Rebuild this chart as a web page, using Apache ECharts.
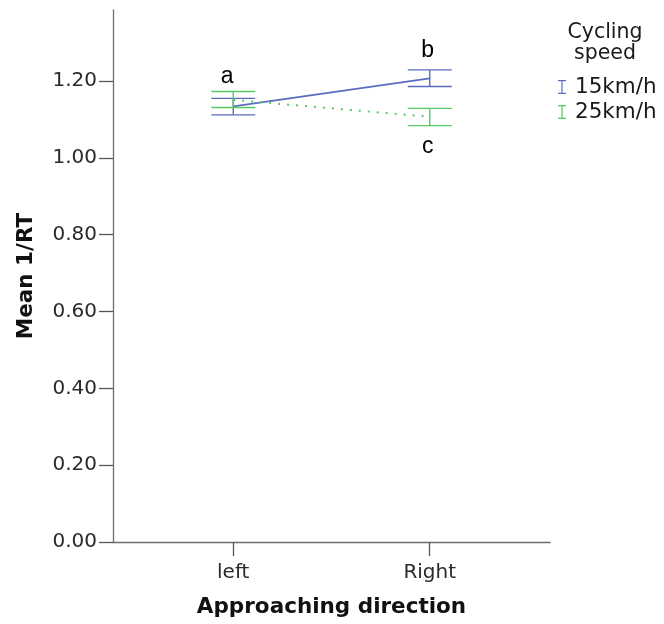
<!DOCTYPE html>
<html>
<head>
<meta charset="utf-8">
<script src="https://cdn.jsdelivr.net/npm/echarts@6/dist/echarts.min.js"></script>
<style>html,body{margin:0;padding:0;background:#fff}#c{width:664px;height:624px}</style>
</head>
<body>
<div id="c"></div>
<script>
// ---- data ----
const categories = ['left', 'Right'];
const seriesNames = ['15km/h', '25km/h'];
const mean15 = [1.134, 1.207];
const lo15 = [1.112, 1.186];
const hi15 = [1.155, 1.229];
const mean25 = [1.151, 1.107];
const lo25 = [1.131, 1.084];
const hi25 = [1.173, 1.129];
const yTicks = [0, 0.2, 0.4, 0.6, 0.8, 1.0, 1.2];
const letters = ['a', 'b', 'c'];

const blue = '#5a6cc0';
const green = '#57c965';
const font = 'DejaVu Sans';

const chart = echarts.init(document.getElementById('c'), null, {renderer: 'canvas'});

function errItem(params, api) {
  const x = api.value(0), lo = api.value(1), hi = api.value(2);
  const pLo = api.coord([x, lo]), pHi = api.coord([x, hi]);
  const hw = 22;
  const style = {stroke: api.visual('color'), lineWidth: 1.4, fill: null};
  return {type: 'group', children: [
    {type: 'line', shape: {x1: pLo[0], y1: pLo[1], x2: pHi[0], y2: pHi[1]}, style: style},
    {type: 'line', shape: {x1: pLo[0] - hw, y1: pLo[1], x2: pLo[0] + hw, y2: pLo[1]}, style: style},
    {type: 'line', shape: {x1: pHi[0] - hw, y1: pHi[1], x2: pHi[0] + hw, y2: pHi[1]}, style: style}
  ]};
}

const ibeam = 'path://M0,0 L8,0 L8,1.2 L4.6,1.2 L4.6,12.8 L8,12.8 L8,14 L0,14 L0,12.8 L3.4,12.8 L3.4,1.2 L0,1.2 Z';

const option = {
  animation: false,
  backgroundColor: '#fff',
  grid: {left: 113, right: 114, top: 10, bottom: 82, containLabel: false},
  title: {
    text: 'Cycling\nspeed',
    left: 600, top: 17, textAlign: 'center',
    textStyle: {fontFamily: font, fontSize: 20.5, fontWeight: 'normal', color: '#1a1a1a', lineHeight: 21}
  },
  legend: {
    orient: 'vertical', left: 553, top: 71, itemGap: 3,
    itemWidth: 8, itemHeight: 14,
    textStyle: {fontFamily: font, fontSize: 21.5, color: '#1a1a1a', padding: [0, 0, 0, 4]},
    data: [
      {name: seriesNames[0], icon: ibeam, itemStyle: {color: blue}},
      {name: seriesNames[1], icon: ibeam, itemStyle: {color: green}}
    ]
  },
  xAxis: {
    type: 'value', min: -0.612, max: 1.612,
    name: 'Approaching direction', nameLocation: 'middle', nameGap: 54,
    nameTextStyle: {fontFamily: font, fontSize: 21.5, fontWeight: 'bold', color: '#111'},
    axisLine: {onZero: false, lineStyle: {color: '#6e6e6e', width: 1.3}},
    axisTick: {show: true, length: 14, customValues: [0, 1], lineStyle: {color: '#555', width: 1.3}},
    axisLabel: {customValues: [0, 1], margin: 21, fontFamily: font, fontSize: 20, color: '#2a2a2a',
      formatter: v => categories[Math.round(v)]},
    splitLine: {show: false}
  },
  yAxis: {
    type: 'value', min: 0, max: 1.385,
    name: 'Mean 1/RT', nameLocation: 'middle', nameGap: 76,
    nameTextStyle: {fontFamily: font, fontSize: 21.5, fontWeight: 'bold', color: '#111'},
    axisLine: {show: true, onZero: false, lineStyle: {color: '#6e6e6e', width: 1.3}},
    axisTick: {show: true, length: 14, customValues: yTicks, lineStyle: {color: '#555', width: 1.3}},
    axisLabel: {customValues: yTicks, margin: 16, fontFamily: font, fontSize: 20, color: '#2a2a2a',
      formatter: v => v.toFixed(2)},
    splitLine: {show: false}
  },
  series: [
    {
      name: seriesNames[0], type: 'line', data: mean15.map((m, i) => [i, m]),
      symbol: 'none', lineStyle: {color: blue, width: 1.6}, itemStyle: {color: blue}, z: 3
    },
    {
      name: seriesNames[1], type: 'line', data: mean25.map((m, i) => [i, m]),
      symbol: 'none', lineStyle: {color: green, width: 2, type: [2, 7]}, itemStyle: {color: green}, z: 3
    },
    {
      name: seriesNames[0], type: 'custom', renderItem: errItem, itemStyle: {color: blue},
      data: lo15.map((l, i) => [i, l, hi15[i]]), z: 4
    },
    {
      name: seriesNames[1], type: 'custom', renderItem: errItem, itemStyle: {color: green},
      data: lo25.map((l, i) => [i, l, hi25[i]]), z: 4
    },
    {
      type: 'scatter', symbolSize: 0, silent: true, z: 5,
      data: [
        {value: [0, Math.max(hi15[0], hi25[0])], label: {formatter: letters[0], position: 'top', distance: 3, offset: [-6, 0]}},
        {value: [1, hi15[1]], label: {formatter: letters[1], position: 'top', distance: 8, offset: [-2, 0]}},
        {value: [1, lo25[1]], label: {formatter: letters[2], position: 'bottom', distance: 10, offset: [-2, 0]}}
      ],
      label: {show: true, fontFamily: 'Liberation Sans', fontSize: 23, color: '#000', opacity: 1}
    }
  ]
};
chart.setOption(option);
</script>
</body>
</html>
